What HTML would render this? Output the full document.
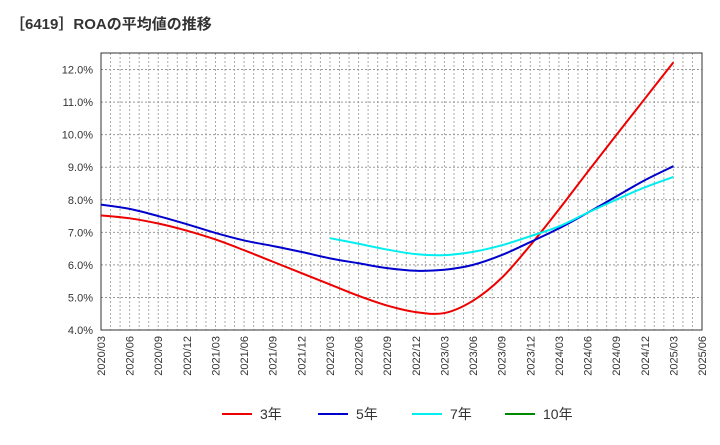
<!DOCTYPE html>
<html><head><meta charset="utf-8"><style>
body{margin:0;background:#fff;width:720px;height:440px;overflow:hidden;font-family:"Liberation Sans","Noto Sans CJK JP",sans-serif}
</style></head><body>
<svg width="720" height="440" id="chart" font-family="Liberation Sans, Noto Sans CJK JP, sans-serif">
<text x="10" y="29" font-size="15" font-weight="bold" fill="#333">［6419］ROAの平均値の推移</text>
<g id="grid"></g><g id="axes"></g><g id="series"></g><g id="legend"></g>
</svg>
<script>
const categories=["2020/03","2020/06","2020/09","2020/12","2021/03","2021/06","2021/09","2021/12","2022/03","2022/06","2022/09","2022/12","2023/03","2023/06","2023/09","2023/12","2024/03","2024/06","2024/09","2024/12","2025/03","2025/06"];
const yTicks=[4,5,6,7,8,9,10,11,12];
const s3=[7.52,7.43,7.27,7.05,6.78,6.45,6.1,5.75,5.4,5.05,4.75,4.55,4.52,4.9,5.6,6.6,7.7,8.85,9.98,11.1,12.22];
const s5=[7.85,7.72,7.5,7.25,6.98,6.75,6.58,6.4,6.2,6.05,5.9,5.82,5.85,6.0,6.3,6.7,7.12,7.6,8.1,8.6,9.03];
const s7=[null,null,null,null,null,null,null,null,6.82,6.65,6.47,6.33,6.3,6.4,6.6,6.88,7.18,7.6,8.0,8.38,8.7];
const s10=[];
const L=101,R=702,T=53,B=330;
const xs=i=>L+i*(R-L)/(categories.length-1);
const ys=v=>B-(v-4)*(B-69.5)/8;
const NS="http://www.w3.org/2000/svg";
function mk(t,a,p){const e=document.createElementNS(NS,t);for(const k in a)e.setAttribute(k,a[k]);p.appendChild(e);return e;}
const grid=document.getElementById('grid'),axes=document.getElementById('axes'),ser=document.getElementById('series'),leg=document.getElementById('legend');
for(let m=1;m<(categories.length-1)*3;m++){const x=L+m*(R-L)/((categories.length-1)*3);
const g=mk('line',{x1:x,x2:x,y1:T,y2:B,stroke:'#aaa','stroke-width':1,'stroke-dasharray':'2,2'},grid);
}
yTicks.forEach(v=>{const y=ys(v);
if(v>4){const g=mk('line',{x1:L,x2:R,y1:y,y2:y,stroke:'#999','stroke-width':1,'stroke-dasharray':'2,2'},grid);
}
const t=mk('text',{x:L-8,y:y+4,'text-anchor':'end','font-size':11,fill:'#333'},axes);t.textContent=v.toFixed(1)+'%';
});
categories.forEach((c,i)=>{const x=xs(i);const t=mk('text',{transform:`translate(${x+4},${B+6}) rotate(-90)`,'text-anchor':'end','font-size':11,fill:'#333'},axes);t.textContent=c;
});
const fr=mk('rect',{x:L,y:T,width:R-L,height:B-T,fill:'none',stroke:'#333','stroke-width':1},axes);

function path(arr){const p=[];arr.forEach((v,i)=>{if(v!=null)p.push([xs(i),ys(v)]);});if(p.length<2)return '';
let d=`M${p[0][0]},${p[0][1]}`;for(let i=0;i<p.length-1;i++){const p0=p[Math.max(0,i-1)],p1=p[i],p2=p[i+1],p3=p[Math.min(p.length-1,i+2)];
d+=` C${p1[0]+(p2[0]-p0[0])/6},${p1[1]+(p2[1]-p0[1])/6} ${p2[0]-(p3[0]-p1[0])/6},${p2[1]-(p3[1]-p1[1])/6} ${p2[0]},${p2[1]}`;}return d;}
const S=[[s3,'#e00','3年','line-3yr'],[s5,'#00c','5年','line-5yr'],[s7,'#0ee','7年','line-7yr'],[s10,'#080','10年','line-10yr']];
S.forEach(([a,c,n,id])=>{const d=path(a);if(d){const e=mk('path',{d,fill:'none',stroke:c,'stroke-width':2},ser);
}});
const lx=[222,318,412,505];
S.forEach(([a,c,n,id],i)=>{const g=mk('g',{},leg);
mk('line',{x1:lx[i],x2:lx[i]+30,y1:414,y2:414,stroke:c,'stroke-width':2},g);
const t=mk('text',{x:lx[i]+38,y:419,'font-size':14,fill:'#333'},g);t.textContent=n;});
</script>
</body></html>
